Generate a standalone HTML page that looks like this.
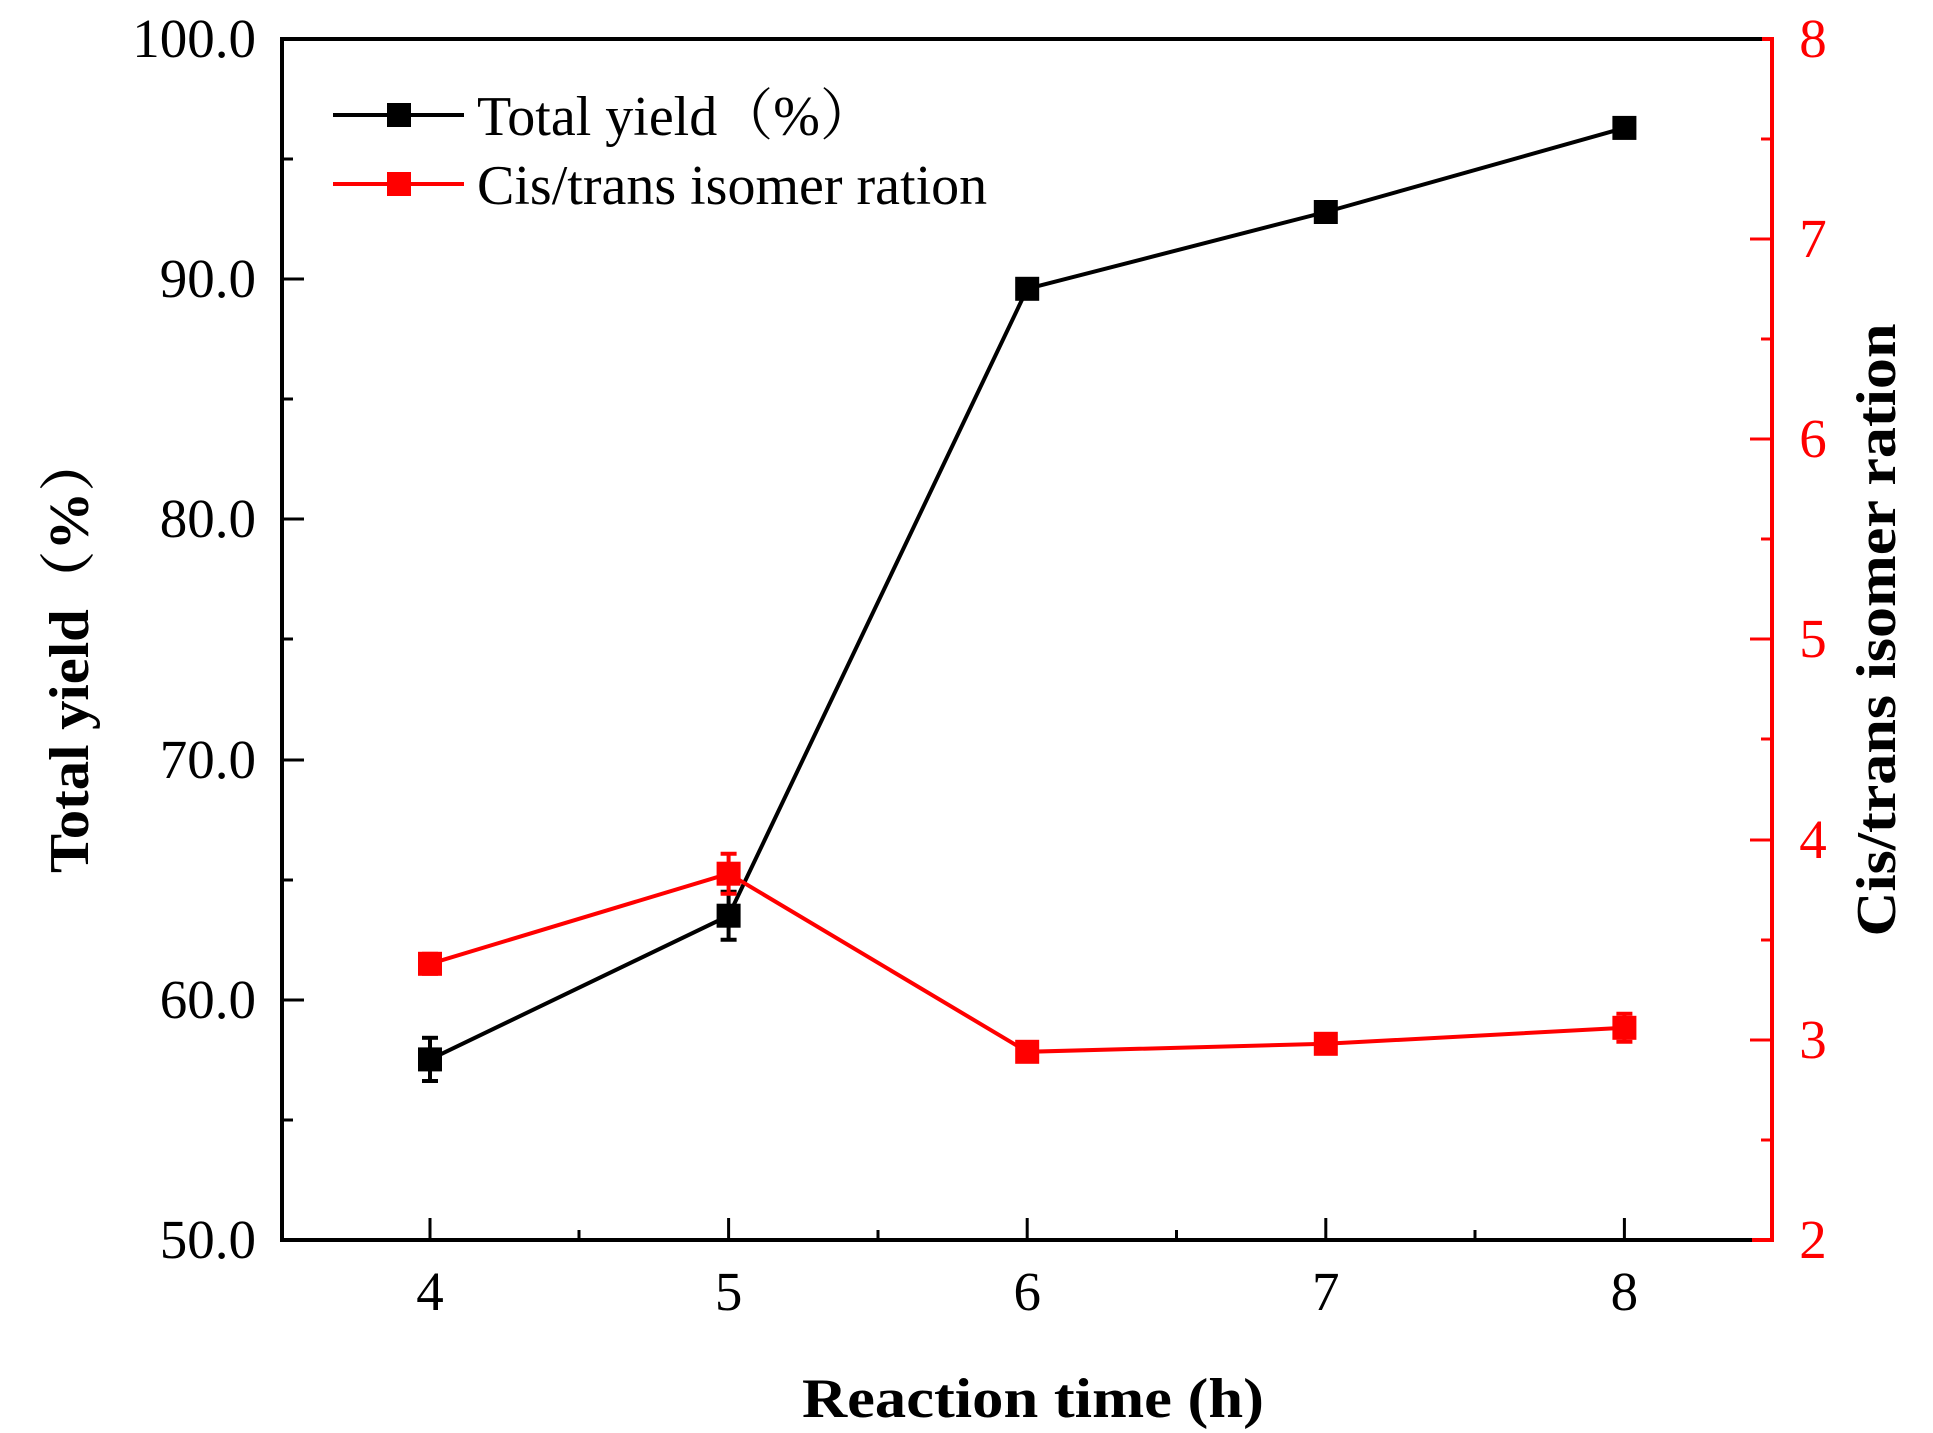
<!DOCTYPE html>
<html><head><meta charset="utf-8"><style>
html,body{margin:0;padding:0;background:#fff;}
svg{display:block;}
text{font-family:"Liberation Serif","Noto Serif CJK SC",serif;}
</style></head><body>
<svg width="1933" height="1433" viewBox="0 0 1933 1433" xmlns="http://www.w3.org/2000/svg">
<rect width="1933" height="1433" fill="#fff"/>
<g stroke="#000" stroke-width="3">
<line x1="282" y1="39" x2="304" y2="39"/><line x1="282" y1="159" x2="293" y2="159"/>
<line x1="282" y1="279" x2="304" y2="279"/><line x1="282" y1="399" x2="293" y2="399"/>
<line x1="282" y1="519" x2="304" y2="519"/><line x1="282" y1="639" x2="293" y2="639"/>
<line x1="282" y1="760" x2="304" y2="760"/><line x1="282" y1="880" x2="293" y2="880"/>
<line x1="282" y1="1000" x2="304" y2="1000"/><line x1="282" y1="1120" x2="293" y2="1120"/>
<line x1="430" y1="1240" x2="430" y2="1218"/><line x1="579" y1="1240" x2="579" y2="1230"/>
<line x1="728.6" y1="1240" x2="728.6" y2="1218"/><line x1="878" y1="1240" x2="878" y2="1230"/>
<line x1="1027.2" y1="1240" x2="1027.2" y2="1218"/><line x1="1176.5" y1="1240" x2="1176.5" y2="1230"/>
<line x1="1325.8" y1="1240" x2="1325.8" y2="1218"/><line x1="1475" y1="1240" x2="1475" y2="1230"/>
<line x1="1624.4" y1="1240" x2="1624.4" y2="1218"/>
</g>
<g stroke="#f00" stroke-width="3">
<line x1="1772" y1="139" x2="1761" y2="139"/><line x1="1772" y1="239" x2="1750" y2="239"/>
<line x1="1772" y1="339" x2="1761" y2="339"/><line x1="1772" y1="439" x2="1750" y2="439"/>
<line x1="1772" y1="539" x2="1761" y2="539"/><line x1="1772" y1="639" x2="1750" y2="639"/>
<line x1="1772" y1="739" x2="1761" y2="739"/><line x1="1772" y1="840" x2="1750" y2="840"/>
<line x1="1772" y1="940" x2="1761" y2="940"/><line x1="1772" y1="1040" x2="1750" y2="1040"/>
<line x1="1772" y1="1140" x2="1761" y2="1140"/>
</g>
<path d="M1772 39 H282 V1240 H1772" fill="none" stroke="#000" stroke-width="4"/>
<path d="M1762 39 H1772 V1240 H1752" fill="none" stroke="#f00" stroke-width="4"/>
<g font-size="55" text-anchor="end" fill="#000">
<text x="256" y="57">100.0</text><text x="256" y="297">90.0</text><text x="256" y="537">80.0</text>
<text x="256" y="778">70.0</text><text x="256" y="1018">60.0</text><text x="256" y="1258">50.0</text>
</g>
<g font-size="55" text-anchor="middle" fill="#000">
<text x="430" y="1310">4</text><text x="728.6" y="1310">5</text><text x="1027.2" y="1310">6</text>
<text x="1325.8" y="1310">7</text><text x="1624.4" y="1310">8</text>
</g>
<g font-size="55" text-anchor="middle" fill="#f00">
<text x="1813" y="57">8</text><text x="1813" y="257">7</text><text x="1813" y="457">6</text>
<text x="1813" y="657">5</text><text x="1813" y="858">4</text><text x="1813" y="1058">3</text><text x="1813" y="1258">2</text>
</g>
<text x="1033" y="1417" font-size="56" font-weight="bold" text-anchor="middle" textLength="462" lengthAdjust="spacingAndGlyphs">Reaction time (h)</text>
<text transform="translate(88,653) rotate(-90)" font-size="56" font-weight="bold" text-anchor="middle" textLength="440" lengthAdjust="spacingAndGlyphs">Total yield（%）</text>
<text transform="translate(1895,630) rotate(-90)" font-size="56" font-weight="bold" text-anchor="middle" textLength="613" lengthAdjust="spacingAndGlyphs">Cis/trans isomer ration</text>
<g stroke="#000" stroke-width="4" fill="none">
<polyline points="430,1059.4 728.6,915.7 1027.2,288.8 1325.8,212 1624.4,127.9"/>
<line x1="430" y1="1037.8" x2="430" y2="1081"/><line x1="422" y1="1037.8" x2="438" y2="1037.8"/><line x1="422" y1="1081" x2="438" y2="1081"/>
<line x1="728.6" y1="891.7" x2="728.6" y2="939.7"/><line x1="720.6" y1="891.7" x2="736.6" y2="891.7"/><line x1="720.6" y1="939.7" x2="736.6" y2="939.7"/>
</g>
<g fill="#000">
<rect x="418" y="1047.4" width="24" height="24"/><rect x="716.6" y="903.7" width="24" height="24"/>
<rect x="1015.2" y="276.8" width="24" height="24"/><rect x="1313.8" y="200" width="24" height="24"/>
<rect x="1612.4" y="115.9" width="24" height="24"/>
</g>
<g stroke="#f00" stroke-width="4" fill="none">
<polyline points="430,963.8 728.6,873.7 1027.2,1051.8 1325.8,1043.8 1624.4,1027.8"/>
<line x1="728.6" y1="853.7" x2="728.6" y2="893.7"/><line x1="720.6" y1="853.7" x2="736.6" y2="853.7"/><line x1="720.6" y1="893.7" x2="736.6" y2="893.7"/>
<line x1="1624.4" y1="1013.8" x2="1624.4" y2="1041.8"/><line x1="1616.4" y1="1013.8" x2="1632.4" y2="1013.8"/><line x1="1616.4" y1="1041.8" x2="1632.4" y2="1041.8"/>
<line x1="430" y1="953.8" x2="430" y2="973.8"/><line x1="422" y1="953.8" x2="438" y2="953.8"/><line x1="422" y1="973.8" x2="438" y2="973.8"/>
</g>
<g fill="#f00">
<rect x="418" y="951.8" width="24" height="24"/><rect x="716.6" y="861.7" width="24" height="24"/>
<rect x="1015.2" y="1039.8" width="24" height="24"/><rect x="1313.8" y="1031.8" width="24" height="24"/>
<rect x="1612.4" y="1015.8" width="24" height="24"/>
</g>
<line x1="333" y1="115" x2="464" y2="115" stroke="#000" stroke-width="4"/>
<rect x="387" y="103" width="24" height="24" fill="#000"/>
<text x="477" y="135" font-size="56" fill="#000">Total yield（%）</text>
<line x1="333" y1="184" x2="464" y2="184" stroke="#f00" stroke-width="4"/>
<rect x="387" y="172" width="24" height="24" fill="#f00"/>
<text x="477" y="204" font-size="56" fill="#000">Cis/trans isomer ration</text>
</svg>
</body></html>
